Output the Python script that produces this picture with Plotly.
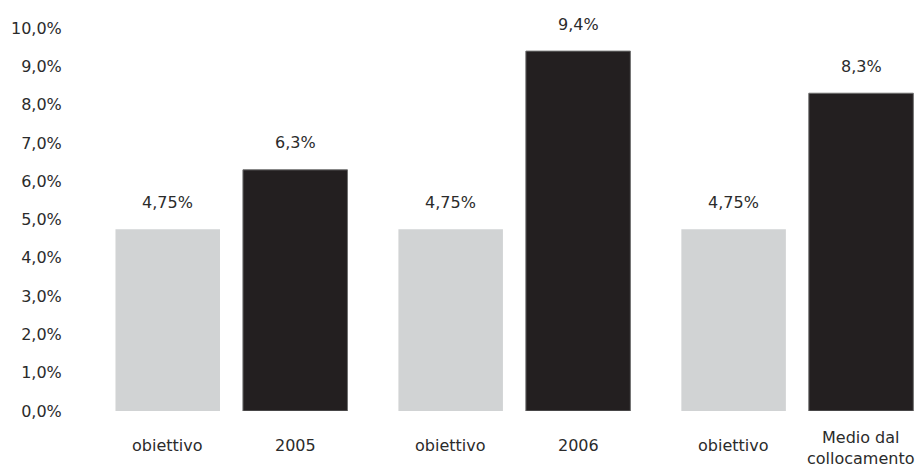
import plotly.graph_objects as go

# ---- data ----
groups = ["gruppo 2005", "gruppo 2006", "gruppo medio"]
target_labels = ["obiettivo", "obiettivo", "obiettivo"]
actual_labels = ["2005", "2006", "Medio dal<br>collocamento"]
target_values = [4.75, 4.75, 4.75]
actual_values = [6.3, 9.4, 8.3]
target_text = ["4,75%", "4,75%", "4,75%"]
actual_text = ["6,3%", "9,4%", "8,3%"]
y_ticks = [0, 1, 2, 3, 4, 5, 6, 7, 8, 9, 10]
y_tick_labels = ["0,0%", "1,0%", "2,0%", "3,0%", "4,0%", "5,0%",
                 "6,0%", "7,0%", "8,0%", "9,0%", "10,0%"]

# ---- style ----
FONT = "DejaVu Sans"
TXT = "#2b2b2b"
GRAY = "#d1d3d4"
BLACK = "#231f20"
SLOT_SHIFT = 64  # px offset of each bar from the group centre

fig = go.Figure()
fig.add_trace(go.Bar(x=groups, y=target_values, marker=dict(color=GRAY, line=dict(width=0)),
                     hoverinfo="skip"))
fig.add_trace(go.Bar(x=groups, y=actual_values,
                     marker=dict(color=BLACK, line=dict(width=1, color="#6e6e6e")),
                     hoverinfo="skip"))

ann = []
for gi, (v, t, lab) in enumerate(zip(target_values, target_text, target_labels)):
    ann.append(dict(x=gi, y=v, xref="x", yref="y", text=t, showarrow=False,
                    xshift=-SLOT_SHIFT, yshift=27, yanchor="middle",
                    font=dict(family=FONT, size=16, color=TXT)))
    ann.append(dict(x=gi, y=0, xref="x", yref="y", text=lab, showarrow=False,
                    xshift=-SLOT_SHIFT, yshift=-34, yanchor="middle",
                    font=dict(family=FONT, size=16, color=TXT)))
for gi, (v, t, lab) in enumerate(zip(actual_values, actual_text, actual_labels)):
    ann.append(dict(x=gi, y=v, xref="x", yref="y", text=t, showarrow=False,
                    xshift=SLOT_SHIFT, yshift=27, yanchor="middle",
                    font=dict(family=FONT, size=16, color=TXT)))
    n_lines = lab.count("<br>") + 1
    ann.append(dict(x=gi, y=0, xref="x", yref="y", text=lab, showarrow=False,
                    xshift=SLOT_SHIFT, yshift=-34 - 2.5 * (n_lines - 1),
                    yanchor="middle",
                    font=dict(family=FONT, size=16, color=TXT)))

fig.update_layout(
    width=919, height=470,
    margin=dict(l=90, r=0, t=9, b=59),
    paper_bgcolor="white", plot_bgcolor="white",
    barmode="group", bargap=0.099, bargroupgap=0.18,
    showlegend=False,
    font=dict(family=FONT, size=16, color=TXT),
    annotations=ann,
    xaxis=dict(type="category", range=[-0.5, 2.43], showticklabels=False, showgrid=False,
               zeroline=False, showline=False, ticks=""),
    yaxis=dict(range=[0, 10.5], tickvals=y_ticks, ticktext=y_tick_labels,
               showgrid=False, zeroline=False, showline=False,
               ticks="outside", ticklen=24, tickcolor="rgba(0,0,0,0)",
               tickfont=dict(family=FONT, size=16, color=TXT)),
)

fig.write_html("out.html")
